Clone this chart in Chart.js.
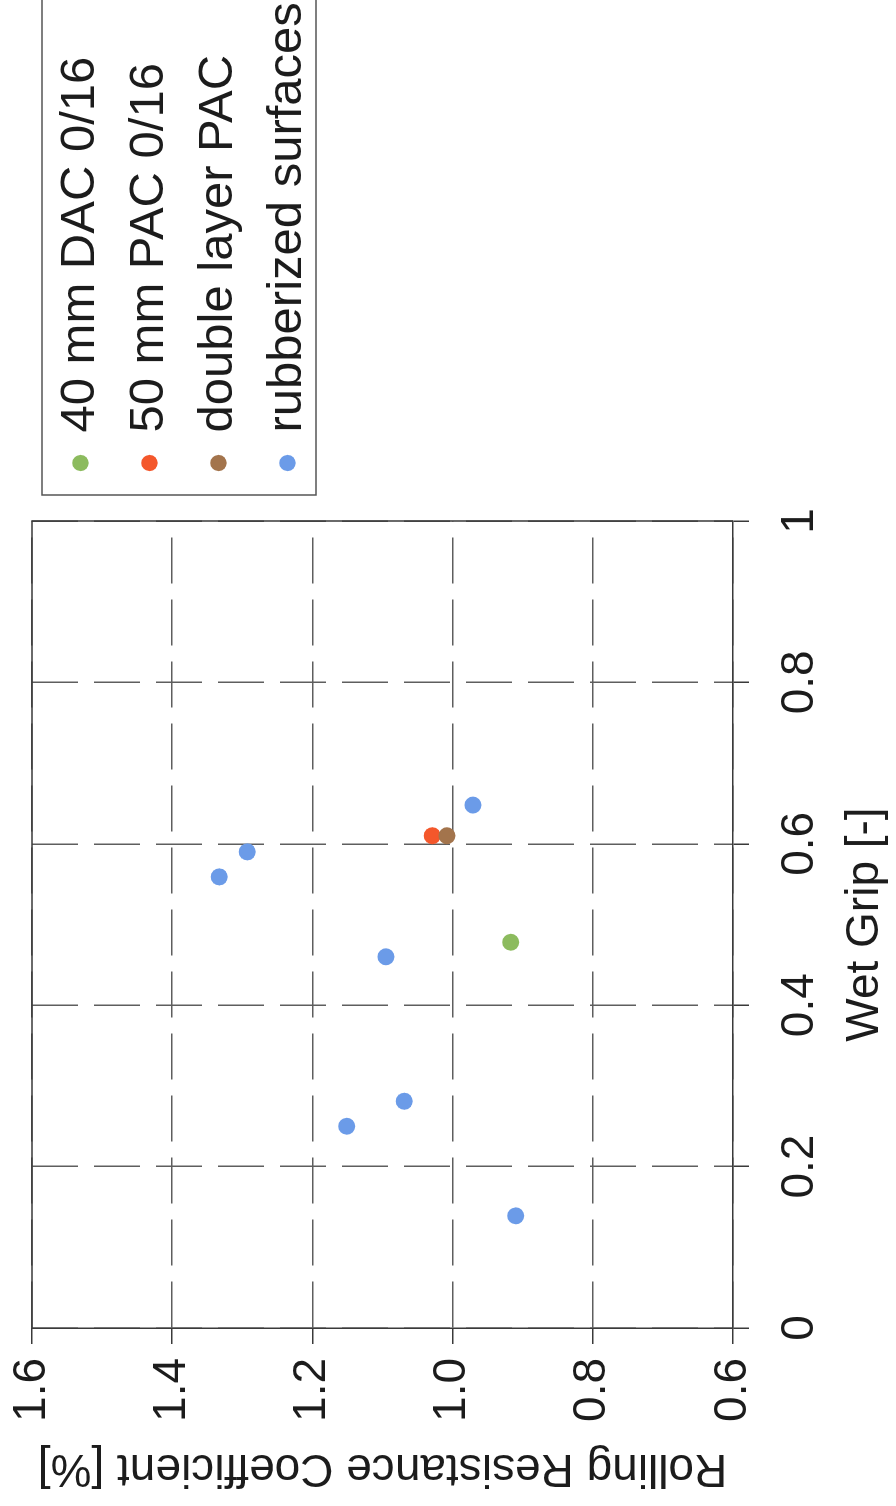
<!DOCTYPE html>
<html>
<head>
<meta charset="utf-8">
<title>Wet Grip vs Rolling Resistance</title>
<script src="https://cdn.jsdelivr.net/npm/chart.js@4/dist/chart.umd.min.js"></script>
<style>
  html, body { margin: 0; padding: 0; overflow: hidden; background: #ffffff; width: 896px; height: 1506px; }
  /* the chart is laid out landscape and turned a quarter turn to stand upright on the page */
  #turn {
    position: absolute; left: 0; top: 0;
    width: 1506px; height: 896px;
    transform-origin: 0 0;
    transform: translateY(1506px) rotate(-90deg);
  }
  canvas { display: block; }
</style>
</head>
<body>
<div id="turn"><canvas id="chart" width="1506" height="896"></canvas></div>
<script>
// Series labels
const seriesNames = ['40 mm DAC 0/16', '50 mm PAC 0/16', 'double layer PAC', 'rubberized surfaces'];

// Wet grip [-] and rolling resistance coefficient [%] per surface type
const dacWetGrip = [0.478];
const dacRolling = [0.917];

const pacWetGrip = [0.610];
const pacRolling = [1.029];

const doubleLayerWetGrip = [0.610];
const doubleLayerRolling = [1.008];

const rubberizedWetGrip = [0.648, 0.590, 0.559, 0.460, 0.281, 0.250, 0.139];
const rubberizedRolling = [0.971, 1.293, 1.333, 1.095, 1.069, 1.151, 0.910];

// Axis tick labels
const wetGripTicks = ['0', '0.2', '0.4', '0.6', '0.8', '1'];
const rollingTicks = ['0.6', '0.8', '1.0', '1.2', '1.4', '1.6'];

const toPoints = (xs, ys) => xs.map((x, i) => ({ x: x, y: ys[i] }));

const seriesColors = ['#8cbb5e', '#f4572b', '#a3744c', '#6b9be8'];

const FONT = '"Liberation Sans", Arial, Helvetica, sans-serif';
const INK = '#1c1c1c';
const GRID = '#5e5e5e';
const AXIS = '#3a3a3a';

Chart.defaults.font.family = FONT;
Chart.defaults.color = INK;

// Solid frame on the two plot edges without an axis, plus the boxed legend outline
const frameAndLegendBox = {
  id: 'frameAndLegendBox',
  beforeDatasetsDraw(chart) {
    const { ctx, chartArea: a } = chart;
    ctx.save();
    ctx.strokeStyle = AXIS;
    ctx.lineWidth = 1.5;
    ctx.setLineDash([]);
    ctx.beginPath();
    ctx.moveTo(a.left, a.top);
    ctx.lineTo(a.right, a.top);
    ctx.lineTo(a.right, a.bottom);
    ctx.stroke();
    ctx.restore();
  },
  afterDraw(chart) {
    const lg = chart.legend;
    if (!lg || !lg.legendHitBoxes || !lg.legendHitBoxes.length) return;
    const boxes = lg.legendHitBoxes;
    const first = boxes[0];
    const last = boxes[boxes.length - 1];
    const left = lg.left - 6;
    const top = first.top - 14;
    const bottom = last.top + last.height + 4;
    const ctx = chart.ctx;
    ctx.save();
    ctx.strokeStyle = '#555555';
    ctx.lineWidth = 1.5;
    ctx.strokeRect(left, top, chart.width + 10 - left, bottom - top);
    ctx.restore();
  }
};

const pointStyle = (color, order) => ({
  backgroundColor: color,
  borderColor: color,
  borderWidth: 0,
  pointRadius: 8.5,
  pointHoverRadius: 8.5,
  pointStyle: 'circle',
  showLine: false,
  order: order
});

new Chart(document.getElementById('chart'), {
  type: 'scatter',
  data: {
    datasets: [
      Object.assign({ label: seriesNames[0], data: toPoints(dacWetGrip, dacRolling) }, pointStyle(seriesColors[0], 0)),
      Object.assign({ label: seriesNames[1], data: toPoints(pacWetGrip, pacRolling) }, pointStyle(seriesColors[1], 2)),
      Object.assign({ label: seriesNames[2], data: toPoints(doubleLayerWetGrip, doubleLayerRolling) }, pointStyle(seriesColors[2], 1)),
      Object.assign({ label: seriesNames[3], data: toPoints(rubberizedWetGrip, rubberizedRolling) }, pointStyle(seriesColors[3], 3))
    ]
  },
  options: {
    responsive: false,
    devicePixelRatio: 1,
    animation: false,
    events: [],
    layout: { padding: { top: 32, left: 0, right: 0, bottom: 0 } },
    plugins: {
      tooltip: { enabled: false },
      legend: {
        display: true,
        position: 'right',
        align: 'start',
        maxWidth: 489,
        title: { display: true, text: '', font: { size: 4, lineHeight: 1 }, padding: 0 },
        labels: {
          usePointStyle: true,
          pointStyle: 'circle',
          boxWidth: 12,
          boxHeight: 11.5,
          padding: 20,
          color: INK,
          font: { size: 49, family: FONT },
          sort: (a, b) => a.datasetIndex - b.datasetIndex
        }
      }
    },
    scales: {
      x: {
        type: 'linear',
        position: 'bottom',
        min: 0,
        max: 1,
        ticks: {
          stepSize: 0.2,
          padding: 24,
          maxRotation: 0,
          minRotation: 0,
          autoSkip: false,
          color: INK,
          font: { size: 46, lineHeight: 1.2 },
          callback: (v, i) => wetGripTicks[i]
        },
        grid: {
          color: GRID,
          lineWidth: 1.5,
          drawTicks: true,
          tickLength: 16,
          tickColor: AXIS,
          tickWidth: 1.5
        },
        border: { display: true, color: AXIS, width: 1.5, dash: [46, 16] },
        title: {
          display: true,
          text: 'Wet Grip [-]',
          color: INK,
          font: { size: 46, lineHeight: 1.2 },
          padding: { top: 0, bottom: 3 }
        },
        afterFit: (s) => { s.height = 163; s.paddingLeft = 0; s.paddingRight = 0; }
      },
      y: {
        type: 'linear',
        position: 'left',
        min: 0.6,
        max: 1.6,
        ticks: {
          stepSize: 0.2,
          padding: 14,
          color: INK,
          font: { size: 46, lineHeight: 1.2 },
          callback: (v, i) => rollingTicks[i]
        },
        grid: {
          color: GRID,
          lineWidth: 1.5,
          drawTicks: true,
          tickLength: 16,
          tickColor: AXIS,
          tickWidth: 1.5
        },
        border: { display: true, color: AXIS, width: 1.5, dash: [46, 16] },
        title: {
          display: true,
          text: 'Rolling Resistance Coefficient [%]',
          color: INK,
          font: { size: 46, lineHeight: 1.2 },
          padding: { top: 11, bottom: 0 }
        },
        afterFit: (s) => { s.width = 178; s.paddingTop = 0; s.paddingBottom = 0; }
      },
      gap: {
        type: 'linear',
        position: 'right',
        display: true,
        grid: { display: false, drawTicks: false },
        ticks: { display: false },
        border: { display: false },
        afterFit: (s) => { s.width = 32; }
      }
    }
  },
  plugins: [frameAndLegendBox]
});
</script>
</body>
</html>
